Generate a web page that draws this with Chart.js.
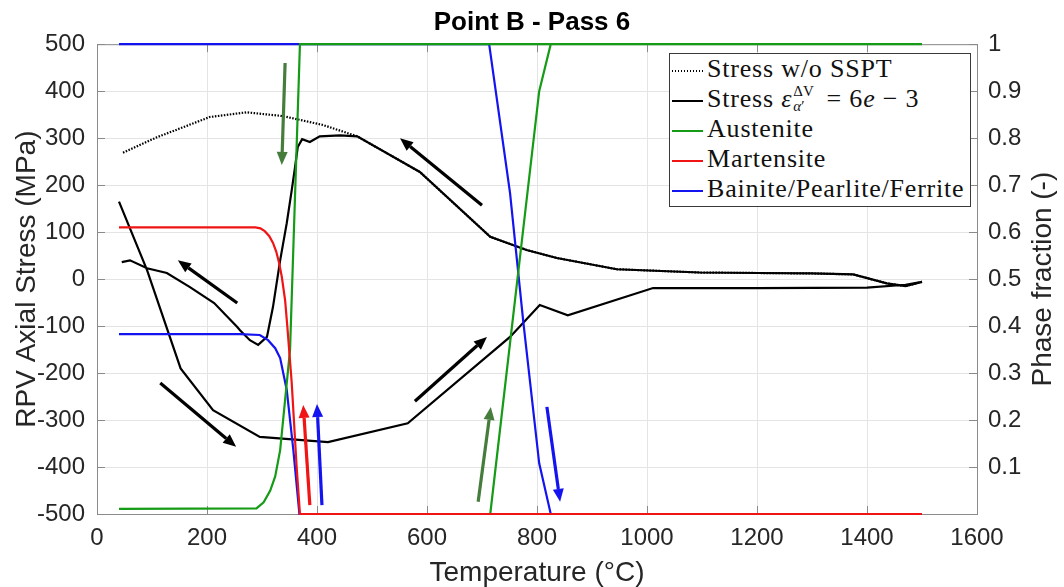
<!DOCTYPE html>
<html>
<head>
<meta charset="utf-8">
<script src="https://cdn.jsdelivr.net/npm/chart.js@4.4.1/dist/chart.umd.min.js"></script>
<style>
  html, body { margin: 0; padding: 0; background: #fff; }
  #wrap { position: relative; width: 1064px; height: 587px; }
  canvas { display: block; }
  #legend {
    position: absolute; left: 669px; top: 53px; width: 302px; height: 154px;
    border: 1px solid #3a3a3a; background: #fff; box-sizing: border-box;
    font-family: 'Liberation Serif', 'Times New Roman', serif; font-size: 26px;
    letter-spacing: 0.8px; color: #111;
  }
  #legend .row { height: 30px; line-height: 30px; white-space: nowrap; position: relative; }
  #legend .sw { display: inline-block; width: 31px; height: 2px; margin: 0 4px 0 2px; vertical-align: middle; }
  #legend .dots { background: repeating-linear-gradient(to right, #000 0 1.5px, transparent 1.5px 3px); }
  #legend i { font-style: italic; }
  #legend .scr { display: inline-block; position: relative; width: 27px; height: 10px; }
  #legend .scr span { position: absolute; left: 1px; font-size: 15px; line-height: 15px; letter-spacing: 0; }
  #legend .scr .sup { top: -13px; }
  #legend .scr .sub { top: 2px; }
</style>
</head>
<body>
<div id="wrap">
  <canvas id="c" width="1064" height="587"></canvas>
  <div id="legend">
    <div class="row"><span class="sw dots"></span>Stress w/o SSPT</div>
    <div class="row"><span class="sw" style="background:#000"></span>Stress <i>ε</i><span class="scr"><span class="sup">ΔV</span><span class="sub"><i>α</i>′</span></span> = 6<i>e</i> − 3</div>
    <div class="row"><span class="sw" style="background:#159b15"></span>Austenite</div>
    <div class="row"><span class="sw" style="background:#f01414"></span>Martensite</div>
    <div class="row"><span class="sw" style="background:#1414f0"></span>Bainite/Pearlite/Ferrite</div>
  </div>
</div>
<script>
// Axial stress (MPa) versus temperature (°C) over the heating + cooling cycle
const stressTemp = [40, 91, 152, 211, 296, 420, 565, 751, 805, 856, 1011, 1200, 1400, 1470, 1500,
                    1470, 1436, 1375, 1300, 1200, 1096, 945, 836, 781, 715, 587, 473, 442, 405, 387, 373,
                    365, 360, 354, 345, 333, 320, 309, 293, 278, 260, 255, 213, 169, 127, 91, 60, 45];
const stressVal  = [165, 19, -190, -279, -336, -347, -307, -123, -55, -77, -19, -19, -18, -12, -6,
                    -15, -9, 10, 12, 13, 14, 21, 45, 62, 90, 228, 304, 306, 304, 292, 298,
                    281, 238, 189, 119, 40, -59, -123, -140, -130, -109, -102, -51, -17, 13, 23, 40, 36];

// Stress without solid-state phase transformation (cooling branch)
const noSsptTemp = [1500, 1470, 1436, 1375, 1300, 1200, 1096, 945, 836, 781, 715, 587, 473,
                    411, 338, 272, 205, 156, 109, 66, 45];
const noSsptVal  = [-6, -15, -9, 10, 12, 13, 14, 21, 45, 62, 90, 228, 304,
                    328, 347, 355, 345, 323, 302, 279, 268];

// Phase fractions (-)
const austeniteTemp = [715, 804, 825, 1500, 369, 351, 342, 333, 324, 315, 303, 290, 40];
const austeniteFrac = [0, 0.9, 1, 1, 1, 0.35, 0.243, 0.136, 0.08, 0.05, 0.025, 0.012, 0.011];

const martensiteTemp = [1500, 369, 363, 354, 346, 342, 336, 331, 326, 320, 313, 305, 297, 288, 40];
const martensiteFrac = [0, 0, 0.10, 0.28, 0.40, 0.455, 0.505, 0.535, 0.558, 0.577, 0.592, 0.602, 0.608, 0.61, 0.61];

const bainiteTemp = [40, 713, 751, 775, 804, 825, 1500, 368, 357, 345, 333, 324, 311, 296, 260, 40];
const bainiteFrac = [1, 1, 0.683, 0.41, 0.108, 0, 0, 0, 0.136, 0.264, 0.332, 0.353, 0.37, 0.381, 0.383, 0.383];

// Direction arrows, given as [temperature, stress] start and end
const arrowPaths = [
  { from: [342, 460],  to: [336, 243],  color: '#467d3c' },
  { from: [700, 157],  to: [551, 300],  color: '#000000' },
  { from: [255, -51],  to: [147, 40],   color: '#000000' },
  { from: [115, -221], to: [253, -357], color: '#000000' },
  { from: [578, -260], to: [709, -123], color: '#000000' },
  { from: [387, -481], to: [375, -268], color: '#f01414' },
  { from: [409, -481], to: [400, -266], color: '#1414f0' },
  { from: [693, -474], to: [716, -272], color: '#467d3c' },
  { from: [818, -272], to: [842, -474], color: '#1414f0' }
];

const xTicks = [0, 200, 400, 600, 800, 1000, 1200, 1400, 1600];
const rightTitle = 'Phase fraction (-)';

const pts = (xs, ys) => xs.map((x, i) => ({ x: x, y: ys[i] }));

Chart.defaults.font.family = "'Liberation Sans', Arial, sans-serif";
Chart.defaults.color = '#262626';

const frameColor = '#8a8a8a';
const labelFont = "28px 'Liberation Sans', Arial, sans-serif";

const framePlugin = {
  id: 'frame',
  beforeDatasetsDraw(chart) {
    // top border and inward tick marks
    const { ctx, chartArea: a, scales } = chart;
    ctx.save();
    ctx.strokeStyle = frameColor; ctx.lineWidth = 1;
    ctx.beginPath();
    ctx.moveTo(a.left, a.top + 0.5); ctx.lineTo(a.right, a.top + 0.5);
    scales.y.ticks.forEach(t => {
      const y = Math.round(scales.y.getPixelForValue(t.value)) + 0.5;
      ctx.moveTo(a.left, y); ctx.lineTo(a.left + 8, y);
    });
    scales.y1.ticks.forEach(t => {
      const y = Math.round(scales.y1.getPixelForValue(t.value)) + 0.5;
      ctx.moveTo(a.right, y); ctx.lineTo(a.right - 8, y);
    });
    scales.x.ticks.forEach(t => {
      const x = Math.round(scales.x.getPixelForValue(t.value)) + 0.5;
      ctx.moveTo(x, a.bottom); ctx.lineTo(x, a.bottom - 8);
      ctx.moveTo(x, a.top); ctx.lineTo(x, a.top + 8);
    });
    ctx.stroke();
    ctx.restore();
  },
  afterDatasetsDraw(chart) {
    const { ctx, scales } = chart;
    ctx.save();
    arrowPaths.forEach(p => {
      const x0 = scales.x.getPixelForValue(p.from[0]);
      const y0 = scales.y.getPixelForValue(p.from[1]);
      const x1 = scales.x.getPixelForValue(p.to[0]);
      const y1 = scales.y.getPixelForValue(p.to[1]);
      const ang = Math.atan2(y1 - y0, x1 - x0);
      const hl = 13, hw = 5.5;
      const bx = x1 - hl * Math.cos(ang), by = y1 - hl * Math.sin(ang);
      ctx.strokeStyle = p.color; ctx.fillStyle = p.color;
      ctx.lineWidth = 3.2; ctx.lineCap = 'butt';
      ctx.beginPath(); ctx.moveTo(x0, y0); ctx.lineTo(bx, by); ctx.stroke();
      ctx.beginPath();
      ctx.moveTo(x1, y1);
      ctx.lineTo(bx + hw * Math.sin(ang), by - hw * Math.cos(ang));
      ctx.lineTo(bx - hw * Math.sin(ang), by + hw * Math.cos(ang));
      ctx.closePath(); ctx.fill();
    });
    ctx.restore();
  },
  afterDraw(chart) {
    // right-hand axis title, reading bottom to top
    const { ctx, chartArea: a } = chart;
    ctx.save();
    ctx.translate(1043, (a.top + a.bottom) / 2);
    ctx.rotate(-Math.PI / 2);
    ctx.font = labelFont; ctx.fillStyle = '#262626';
    ctx.textAlign = 'center'; ctx.textBaseline = 'middle';
    ctx.fillText(rightTitle, 0, 0);
    ctx.restore();
  }
};

const lineBase = { showLine: true, pointRadius: 0, borderWidth: 2.2, tension: 0, fill: false };

new Chart(document.getElementById('c'), {
  type: 'scatter',
  data: {
    datasets: [
      Object.assign({}, lineBase, { label: 'Martensite', data: pts(martensiteTemp, martensiteFrac),
        borderColor: '#f01414', yAxisID: 'y1', order: 1, clip: 4 }),
      Object.assign({}, lineBase, { label: 'Austenite', data: pts(austeniteTemp, austeniteFrac),
        borderColor: '#159b15', yAxisID: 'y1', order: 2, clip: 4 }),
      Object.assign({}, lineBase, { label: 'Bainite/Pearlite/Ferrite', data: pts(bainiteTemp, bainiteFrac),
        borderColor: '#1414f0', yAxisID: 'y1', order: 3, clip: 4 }),
      Object.assign({}, lineBase, { label: 'Stress w/o SSPT', data: pts(noSsptTemp, noSsptVal),
        borderColor: '#000', borderDash: [1.5, 1.5], yAxisID: 'y', order: 4 }),
      Object.assign({}, lineBase, { label: 'Stress', data: pts(stressTemp, stressVal),
        borderColor: '#000', yAxisID: 'y', order: 5 })
    ]
  },
  options: {
    responsive: false,
    animation: false,
    layout: { padding: 0 },
    plugins: {
      legend: { display: false },
      tooltip: { enabled: false },
      title: {
        display: true, text: 'Point B - Pass 6', color: '#000',
        font: { size: 26, weight: 'bold', lineHeight: 1.2 }, padding: { top: 7, bottom: 6 }
      }
    },
    scales: {
      x: {
        type: 'linear', min: 0, max: 1600,
        afterBuildTicks: s => { s.ticks = xTicks.map(v => ({ value: v })); },
        afterFit: s => { s.height = 73; },
        ticks: { padding: 10, font: { size: 24 }, maxRotation: 0, autoSkip: false,
                 callback: v => String(v) },
        grid: { color: '#e4e4e4', drawTicks: false },
        border: { color: frameColor },
        title: { display: true, text: 'Temperature (°C)', font: { size: 28, lineHeight: 1 },
                 padding: { top: 0, bottom: 0 }, color: '#262626' }
      },
      y: {
        position: 'left', min: -500, max: 500,
        afterFit: s => { s.width = 97; },
        ticks: { stepSize: 100, padding: 12, font: { size: 24 }, callback: v => String(v) },
        grid: { color: '#e4e4e4', drawTicks: false },
        border: { color: frameColor },
        title: { display: true, text: 'RPV Axial Stress (MPa)', font: { size: 28, lineHeight: 1 },
                 padding: { top: 13, bottom: 0 }, color: '#262626' }
      },
      y1: {
        position: 'right', min: 0, max: 1,
        afterFit: s => { s.width = 87; },
        ticks: { stepSize: 0.1, padding: 11, font: { size: 24 },
                 callback: v => (Math.abs(v) < 1e-9 ? '' : String(+v.toFixed(1))) },
        grid: { display: false, drawTicks: false },
        border: { color: frameColor }
      }
    }
  },
  plugins: [framePlugin]
});
</script>
</body>
</html>
